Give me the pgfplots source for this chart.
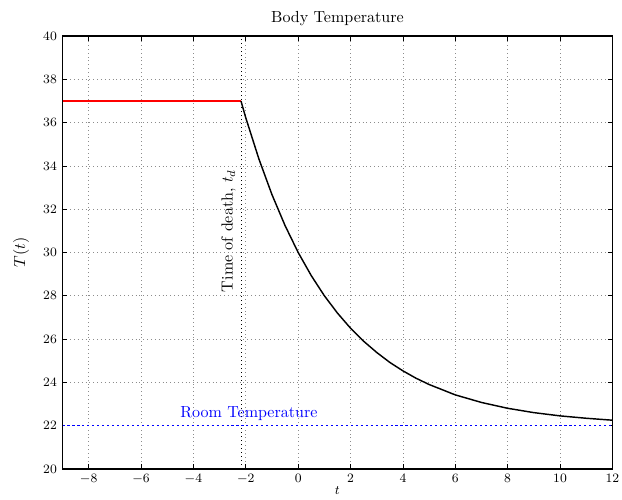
\documentclass[border=0pt]{standalone}
\usepackage{pgfplots}
\pgfplotsset{compat=1.18}
\begin{document}
\begin{tikzpicture}
\begin{axis}[
  set layers,
  scale only axis, width=343pt, height=270pt,
  xmin=-9, xmax=12, ymin=20, ymax=40,
  xtick={-8,-6,...,12}, ytick={20,22,...,40},
  tick align=inside, tick pos=both,
  major tick length=3pt,
  grid=major,
  major grid style={dotted, gray!90, line width=0.4pt},
  axis line style={line width=0.8pt},
  tick style={black, line width=0.5pt},
  ticklabel style={font=\footnotesize},
  title={Body Temperature},
  title style={yshift=-3pt},
  xlabel={$t$}, ylabel={$T(t)$},
  xlabel style={font=\footnotesize, yshift=5.5pt},
  ylabel style={yshift=2pt},
  clip=false,
]
\addplot[red, line width=0.9pt] coordinates {(-9,37) (-2.185,37)};
\addplot[black, line width=0.9pt] coordinates {
(-2.185,37) (-2,36.22) (-1.5,34.32) (-1,32.67) (-0.5,31.24) (0,30.00)
(0.5,28.93) (1,28.00) (1.5,27.20) (2,26.50) (2.5,25.90) (3,25.38)
(3.5,24.92) (4,24.53) (4.5,24.19) (5,23.90) (6,23.42) (7,23.07)
(8,22.80) (9,22.60) (10,22.45) (11,22.34) (12,22.25)};
\addplot[black, dotted, line width=0.5pt] coordinates {(-2.185,20) (-2.185,40)};
\addplot[white, line width=1.5pt] coordinates {(-8.95,22) (11.95,22)};
\addplot[blue, line width=1.1pt, line cap=butt, dash pattern=on 1.3pt off 1.8pt] coordinates {(-9,22) (12,22)};
\node[rotate=90, anchor=south, inner sep=2pt] at (axis cs:-2.25,31.0) {Time of death, $t_d$};
\node[blue, anchor=south, inner sep=2pt] at (axis cs:-1.88,22.05) {Room Temperature};
\end{axis}
\pgfresetboundingbox
\path ([shift={(-39pt,-19.4pt)}]current axis.south west) rectangle ([shift={(6pt,22.5pt)}]current axis.north east);
\end{tikzpicture}
\end{document}
